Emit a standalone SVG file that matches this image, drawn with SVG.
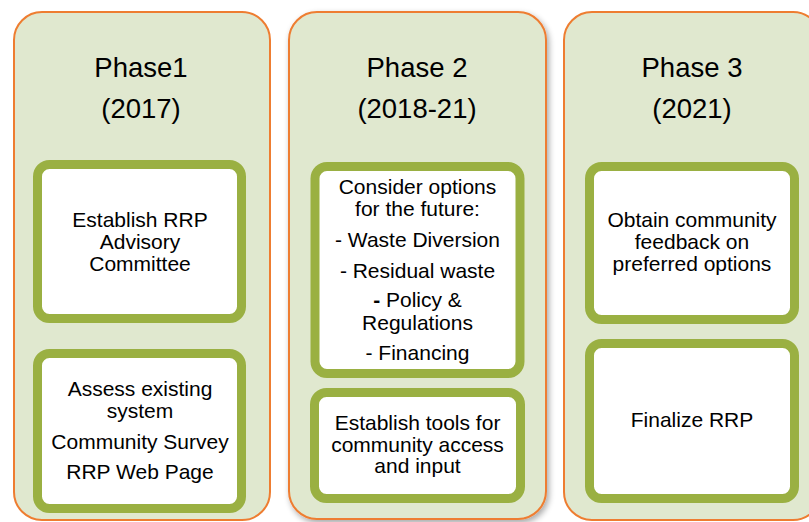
<svg xmlns="http://www.w3.org/2000/svg" width="809" height="522" viewBox="0 0 809 522">
<style>
.panel{fill:#E0E8CF;stroke:#EE7D31;stroke-width:2}
.box{fill:#FFFFFF;stroke:#9AB042;stroke-width:9}
.ph{font-family:"Liberation Sans",Arial,sans-serif;font-size:27.5px;fill:#000;text-anchor:middle}
.t{font-family:"Liberation Sans",Arial,sans-serif;font-size:21px;fill:#000;text-anchor:middle}
</style>
<defs>
<filter id="sh" x="-10%" y="-10%" width="125%" height="125%">
<feGaussianBlur in="SourceAlpha" stdDeviation="3"/>
<feOffset dx="2" dy="3" result="b"/>
<feComponentTransfer><feFuncA type="linear" slope="0.35"/></feComponentTransfer>
<feMerge><feMergeNode/><feMergeNode in="SourceGraphic"/></feMerge>
</filter>
</defs>
<rect width="809" height="522" fill="#FFFFFF"/>
<g id="phase1">
<rect class="panel" x="14" y="12" width="256" height="508" rx="28"/>
<text class="ph" x="141" y="77">Phase1</text>
<text class="ph" x="141" y="118">(2017)</text>
</g>
<g id="phase2">
<rect class="panel" x="289" y="12" width="257" height="507" rx="28" filter="url(#sh)"/>
<text class="ph" x="417" y="77">Phase 2</text>
<text class="ph" x="417" y="118">(2018-21)</text>
</g>
<g id="phase3">
<rect class="panel" x="564" y="12" width="257" height="508" rx="28"/>
<text class="ph" x="692" y="77">Phase 3</text>
<text class="ph" x="692" y="118">(2021)</text>
</g>
<g id="p1box1">
<rect class="box" x="37.5" y="164.5" width="204" height="154" rx="12"/>
<text class="t" x="140" y="227">Establish RRP</text>
<text class="t" x="140" y="249">Advisory</text>
<text class="t" x="140" y="271">Committee</text>
</g>
<g id="p1box2">
<rect class="box" x="37.5" y="353.5" width="204" height="155" rx="12"/>
<text class="t" x="140" y="396">Assess existing</text>
<text class="t" x="140" y="418">system</text>
<text class="t" x="140" y="449">Community Survey</text>
<text class="t" x="140" y="479">RRP Web Page</text>
</g>
<g id="p2box1">
<rect class="box" x="315" y="166.5" width="205" height="207" rx="12"/>
<text class="t" x="417.5" y="194">Consider options</text>
<text class="t" x="417.5" y="216">for the future:</text>
<text class="t" x="417.5" y="247">- Waste Diversion</text>
<text class="t" x="417.5" y="278">- Residual waste</text>
<text class="t" x="417.5" y="307"><tspan font-weight="bold">-</tspan> Policy &amp;</text>
<text class="t" x="417.5" y="330">Regulations</text>
<text class="t" x="417.5" y="360">- Financing</text>
</g>
<g id="p2box2">
<rect class="box" x="314.5" y="392.5" width="206" height="106" rx="12"/>
<text class="t" x="417.5" y="430">Establish tools for</text>
<text class="t" x="417.5" y="452">community access</text>
<text class="t" x="417.5" y="473">and input</text>
</g>
<g id="p3box1">
<rect class="box" x="589.5" y="166.5" width="205" height="153" rx="12"/>
<text class="t" x="692" y="227">Obtain community</text>
<text class="t" x="692" y="249">feedback on</text>
<text class="t" x="692" y="271">preferred options</text>
</g>
<g id="p3box2">
<rect class="box" x="589.5" y="343.5" width="205" height="155" rx="12"/>
<text class="t" x="692" y="427">Finalize RRP</text>
</g>
<g id="connectors"/>
</svg>
